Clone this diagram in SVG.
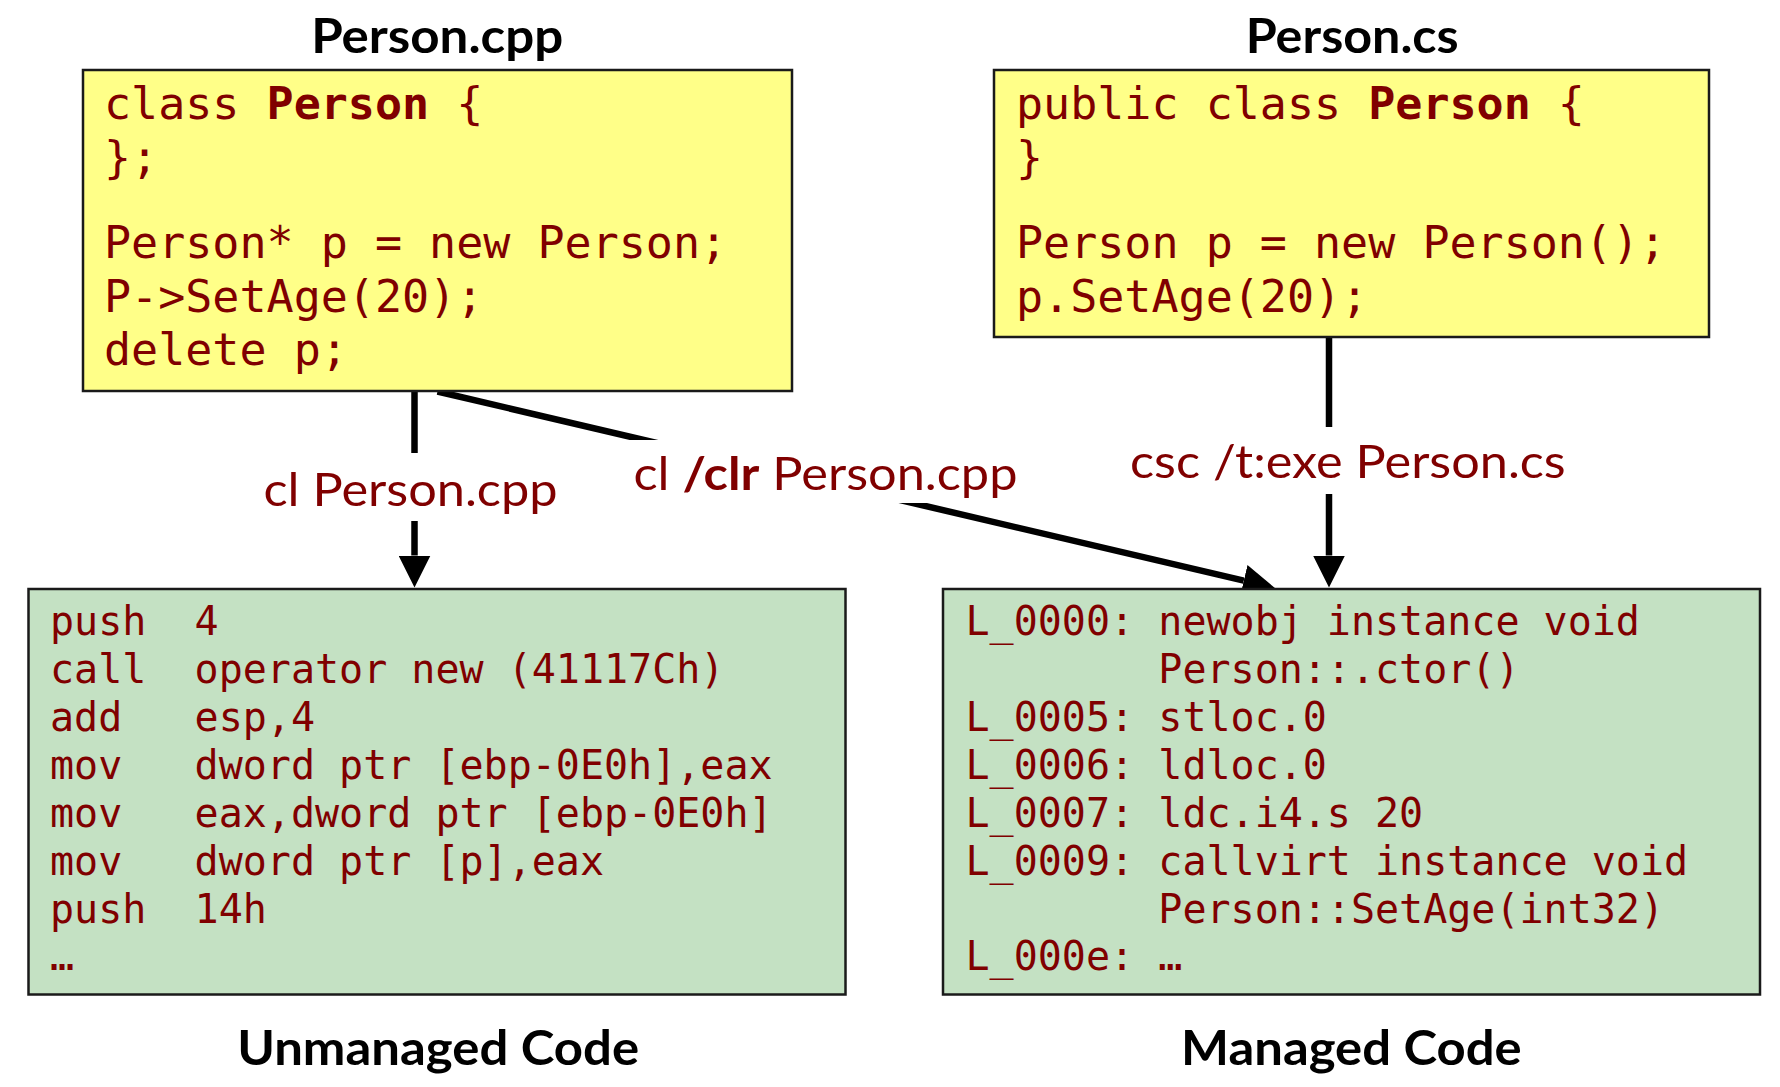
<svg xmlns="http://www.w3.org/2000/svg" width="1780" height="1087" viewBox="0 0 1780 1087">
  <style>
    .title { font-family: Lato, "Open Sans", sans-serif; font-weight: bold; font-size: 47px; fill: #000; }
    .label { font-family: Lato, "Open Sans", sans-serif; font-size: 46px; fill: #800000; }
    .src { font-family: "DejaVu Sans Mono", "Liberation Mono", monospace; font-size: 45px; fill: #800000; }
    .asm { font-family: "DejaVu Sans Mono", "Liberation Mono", monospace; font-size: 40px; fill: #800000; }
    .b { font-weight: bold; }
    .srcbox { fill: #FFFF88; stroke: #1a1a1a; stroke-width: 2.5; }
    .outbox { fill: #C4E1C3; stroke: #1a1a1a; stroke-width: 2.5; }
    .edge { fill: none; stroke: #000; stroke-width: 6.5; marker-end: url(#arrow); }
    .gap { fill: #fff; }
  </style>
  <defs>
    <marker id="arrow" markerUnits="userSpaceOnUse" viewBox="0 0 32 32" markerWidth="32" markerHeight="32" refX="0" refY="16" orient="auto">
      <path d="M0,0 L32,16 L0,32 z" fill="#000"/>
    </marker>
  </defs>

  <!-- compiler invocations -->
  <g id="connectors">
    <path class="edge" d="M414.5,392 L414.5,555.5"/>
    <path class="edge" d="M437.5,391.5 L1243.8,580.7"/>
    <path class="edge" d="M1329,338 L1329,555.5"/>
    <rect class="gap" x="258" y="453" width="305" height="68"/>
    <rect class="gap" x="626" y="440" width="396" height="63"/>
    <rect class="gap" x="1125" y="427" width="446" height="67"/>
    <text class="label" x="263.5" y="506" textLength="294" lengthAdjust="spacingAndGlyphs">cl Person.cpp</text>
    <text class="label" x="633.5" y="490" textLength="384" lengthAdjust="spacingAndGlyphs">cl <tspan class="b">/clr</tspan> Person.cpp</text>
    <text class="label" x="1130" y="478.3" textLength="435.7" lengthAdjust="spacingAndGlyphs">csc /t:exe Person.cs</text>
  </g>

  <!-- C++ source -->
  <g id="cpp-source">
    <text class="title" x="311.2" y="52.7" textLength="252" lengthAdjust="spacingAndGlyphs">Person.cpp</text>
    <rect class="srcbox" x="83" y="70" width="709" height="321"/>
    <text class="src" x="104" y="119">class <tspan class="b">Person</tspan> {</text>
    <text class="src" x="104" y="172.5">};</text>
    <text class="src" x="104" y="258">Person* p = new Person;</text>
    <text class="src" x="104" y="311.5">P-&gt;SetAge(20);</text>
    <text class="src" x="104" y="365">delete p;</text>
  </g>

  <!-- C# source -->
  <g id="cs-source">
    <text class="title" x="1245.7" y="52.7" textLength="213" lengthAdjust="spacingAndGlyphs">Person.cs</text>
    <rect class="srcbox" x="994" y="70" width="715" height="267"/>
    <text class="src" x="1016" y="119">public class <tspan class="b">Person</tspan> {</text>
    <text class="src" x="1016" y="172.5">}</text>
    <text class="src" x="1016" y="258">Person p = new Person();</text>
    <text class="src" x="1016" y="311.5">p.SetAge(20);</text>
  </g>

  <!-- native x86 output -->
  <g id="unmanaged-code">
    <rect class="outbox" x="28.5" y="589" width="817" height="405.5"/>
    <text class="asm" x="50" y="634.5">push<tspan x="194.6">4</tspan></text>
    <text class="asm" x="50" y="682.5">call<tspan x="194.6">operator new (41117Ch)</tspan></text>
    <text class="asm" x="50" y="730.5">add<tspan x="194.6">esp,4</tspan></text>
    <text class="asm" x="50" y="778.5">mov<tspan x="194.6">dword ptr [ebp-0E0h],eax</tspan></text>
    <text class="asm" x="50" y="826.5">mov<tspan x="194.6">eax,dword ptr [ebp-0E0h]</tspan></text>
    <text class="asm" x="50" y="874.5">mov<tspan x="194.6">dword ptr [p],eax</tspan></text>
    <text class="asm" x="50" y="922.5">push<tspan x="194.6">14h</tspan></text>
    <text class="asm" x="50" y="970">…</text>
    <text class="title" x="237.2" y="1065" textLength="402" lengthAdjust="spacingAndGlyphs">Unmanaged Code</text>
  </g>

  <!-- MSIL output -->
  <g id="managed-code">
    <rect class="outbox" x="943" y="589" width="817" height="405.5"/>
    <text class="asm" x="965.5" y="634.5">L_0000:<tspan x="1158.3">newobj instance void</tspan></text>
    <text class="asm" x="1158.3" y="682.5">Person::.ctor()</text>
    <text class="asm" x="965.5" y="730.5">L_0005:<tspan x="1158.3">stloc.0</tspan></text>
    <text class="asm" x="965.5" y="778.5">L_0006:<tspan x="1158.3">ldloc.0</tspan></text>
    <text class="asm" x="965.5" y="826.5">L_0007:<tspan x="1158.3">ldc.i4.s 20</tspan></text>
    <text class="asm" x="965.5" y="874.5">L_0009:<tspan x="1158.3">callvirt instance void</tspan></text>
    <text class="asm" x="1158.3" y="922.5">Person::SetAge(int32)</text>
    <text class="asm" x="965.5" y="970">L_000e:<tspan x="1158.3">…</tspan></text>
    <text class="title" x="1181.1" y="1065" textLength="340.6" lengthAdjust="spacingAndGlyphs">Managed Code</text>
  </g>
</svg>
